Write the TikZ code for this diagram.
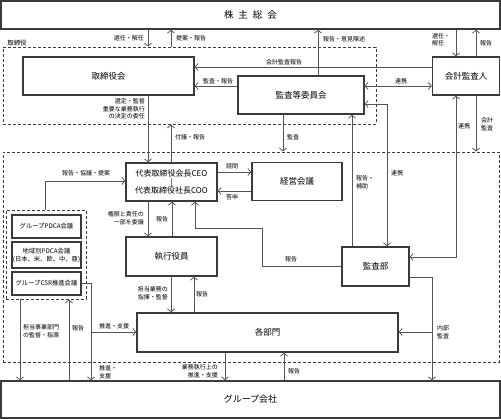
\documentclass[tikz,border=0pt]{standalone}
\usepackage{fontspec}
\setmainfont{Noto Sans CJK JP}
\usetikzlibrary{arrows.meta}
\definecolor{boxc}{HTML}{3A3A3A}
\definecolor{linec}{HTML}{555555}
\begin{document}
\begin{tikzpicture}[x=1pt,y=-1pt,
  box/.style={draw=boxc,line width=1.3pt,fill=white,inner sep=0pt,align=center,font=\fontsize{8.5}{10}\selectfont},
  smallbox/.style={box,line width=1.1pt,font=\fontsize{6.3}{8}\selectfont},
  region/.style={draw=boxc,line width=0.9pt,dash pattern=on 3pt off 2pt,inner sep=0pt},
  conn/.style={draw=linec,line width=0.9pt},
  arr/.style={conn,-{Straight Barb[length=3pt,width=7pt,line width=0.8pt]}},
  darr/.style={conn,{Straight Barb[length=3pt,width=7pt,line width=0.8pt]}-{Straight Barb[length=3pt,width=7pt,line width=0.8pt]}},
  lbl/.style={inner sep=0pt,font=\fontsize{6}{7.5}\selectfont,text=black},
]
\useasboundingbox (0,0) rectangle (501,419);
% regions
\node[region,minimum width=373pt,minimum height=77pt] (r1) at (189.5,85.5) {};
\node[region,minimum width=496pt,minimum height=210pt] (r2) at (251,257) {};
\node[region,minimum width=80pt,minimum height=89pt] (pr) at (46,254.5) {};
\node[lbl,font=\fontsize{6.5}{8}\selectfont] (r1lbl) at (17,43) {取締役};
% boxes
\node[box,minimum width=499pt,minimum height=28pt,font=\fontsize{9.5}{11}\selectfont] (sh) at (250.5,15) {株\hspace{5pt}主\hspace{5pt}総\hspace{5pt}会};
\node[box,minimum width=171pt,minimum height=38pt] (board) at (108.5,76) {取締役会};
\node[box,minimum width=126pt,minimum height=38pt] (audit) at (301,95) {監査等委員会};
\node[box,minimum width=67pt,minimum height=38pt] (auditor) at (466,76) {会計監査人};
\node[box,minimum width=91pt,minimum height=38pt,font=\fontsize{8}{9.5}\selectfont] (ceo) at (171.5,182) {代表取締役会長CEO\\[-1pt]|\\[-1pt]代表取締役社長COO};
\node[box,minimum width=90pt,minimum height=38pt] (mgmt) at (297,181.5) {経営会議};
\node[box,minimum width=91pt,minimum height=39pt] (exec) at (171.5,256.5) {執行役員};
\node[box,minimum width=67pt,minimum height=39pt] (ad) at (375.5,266.5) {監査部};
\node[box,minimum width=261pt,minimum height=39pt] (depts) at (267.5,332.5) {各部門};
\node[box,minimum width=499pt,minimum height=37pt,font=\fontsize{9}{11}\selectfont] (group) at (250.5,399.5) {グループ会社};
\node[smallbox,minimum width=69pt,minimum height=23pt] (p1) at (46.5,226.5) {グループPDCA会議};
\node[smallbox,minimum width=69pt,minimum height=26pt] (p2) at (46.5,255) {地域別PDCA会議\\(日本、米、欧、中、亜)};
\node[smallbox,minimum width=69pt,minimum height=23pt] (p3) at (46.5,283.5) {グループCSR推進会議};
% helper coordinates
\foreach \x in {20,45,69,91,148,171,172,194,195,225,262,283,284,318,352,387,432,456,476}
  {\coordinate (X\x) at (\x,0);}
\foreach \y in {67,86,104,172,181,191,228,257,266,277,283,332}
  {\coordinate (Y\y) at (0,\y);}
% connectors
\draw[arr] (sh.south -| X148) -- (r1.north -| X148);
\draw[arr] (r1.north -| X171) -- (sh.south -| X171);
\draw[arr] (sh.south -| X456) -- (auditor.north -| X456);
\draw[arr] (auditor.north -| X476) -- (sh.south -| X476);
\draw[arr] (audit.north -| X318) -- (sh.south -| X318);
\draw[arr] (auditor.west |- Y67) -- (board.east |- Y67);
\draw[arr] (audit.west |- Y86) -- (board.east |- Y86);
\draw[darr] (audit.east |- Y86) -- (auditor.west |- Y86);
\draw[darr] (ad.north -| X387) |- (audit.east |- Y104);
\draw[arr] (ad.north -| X352) -- (audit.south -| X352);
\draw[arr] (audit.south -| X283) -- (r2.north -| X283);
\draw[arr] (ceo.north -| X171) -- (r1.south -| X171);
\draw[arr] (board.south -| X148) -- (ceo.north -| X148);
\draw[darr] (auditor.south -| X456) |- (ad.east |- Y257);
\draw[arr] (auditor.south -| X476) -- (r2.north -| X476);
\draw[arr] (ceo.east |- Y172) -- (mgmt.west |- Y172);
\draw[arr] (mgmt.west |- Y191) -- (ceo.east |- Y191);
\draw[arr] (ad.west |- Y266) -| (X262 |- Y228) -| (ceo.south -| X195);
\draw[arr] (pr.north -| X45) |- (ceo.west |- Y181);
\draw[arr] (ceo.south -| X148) -- (exec.north -| X148);
\draw[arr] (exec.north -| X172) -- (ceo.south -| X172);
\draw[arr] (exec.south -| X171) -- (depts.north -| X171);
\draw[arr] (depts.north -| X194) -- (exec.south -| X194);
\draw[arr] (ad.east |- Y277) -| (group.north -| X432);
\draw[arr] (X432 |- Y332) -- (depts.east |- Y332);
\draw[arr] (p3.east |- Y283) -| (group.north -| X91);
\draw[arr] (X91 |- Y332) -- (depts.west |- Y332);
\draw[arr] (pr.south -| X20) -- (group.north -| X20);
\draw[arr] (group.north -| X69) -- (pr.south -| X69);
\draw[arr] (depts.south -| X225) -- (group.north -| X225);
\draw[arr] (group.north -| X284) -- (depts.south -| X284);
% labels
\node[lbl,anchor=east] (l1) at (144,38) {選任・解任};
\node[lbl,anchor=west] (l2) at (176,38) {提案・報告};
\node[lbl,align=left] (l3) at (441,39.5) {選任・\\解任};
\node[lbl] (l4) at (486,43) {報告};
\node[lbl,anchor=west] (l5) at (323,39) {報告・意見陳述};
\node[lbl] (l6) at (284,62) {会計監査報告};
\node[lbl] (l7) at (218,81) {監査・報告};
\node[lbl] (l8) at (401,81) {連携};
\node[lbl,anchor=east,align=right] (l9) at (145,109) {選定・監督\\重要な業務執行\\の決定の委任};
\node[lbl,anchor=west] (l10) at (175,137) {付議・報告};
\node[lbl] (l11) at (293,137) {監査};
\node[lbl,anchor=west,align=left] (l12) at (356,182) {報告・\\補助};
\node[lbl] (l13) at (397,173) {連携};
\node[lbl] (l14) at (464,126) {連携};
\node[lbl,align=left] (l15) at (487,124) {会計\\監査};
\node[lbl] (l16) at (232,166) {諮問};
\node[lbl] (l17) at (232,197) {答申};
\node[lbl] (l18) at (86,173) {報告・協議・提案};
\node[lbl,anchor=east,align=right] (l19) at (144,218) {権限と責任の\\一部を委譲};
\node[lbl] (l20) at (162,219) {報告};
\node[lbl] (l21) at (291,259) {報告};
\node[lbl,anchor=east,align=right] (l22) at (168,293) {担当業務の\\指揮・監督};
\node[lbl] (l23) at (202,294) {報告};
\node[lbl] (l24) at (114,326) {推進・支援};
\node[lbl,anchor=west,align=left] (l25) at (99,372) {推進・\\支援};
\node[lbl,anchor=west,align=left] (l26) at (23,331) {担当事業部門\\の監督・指導};
\node[lbl] (l27) at (78,328) {報告};
\node[lbl,anchor=east,align=right] (l28) at (218,371) {業務執行上の\\推進・支援};
\node[lbl] (l29) at (294,371) {報告};
\node[lbl,anchor=west,align=left] (l30) at (437,332) {内部\\監査};
\end{tikzpicture}
\end{document}
